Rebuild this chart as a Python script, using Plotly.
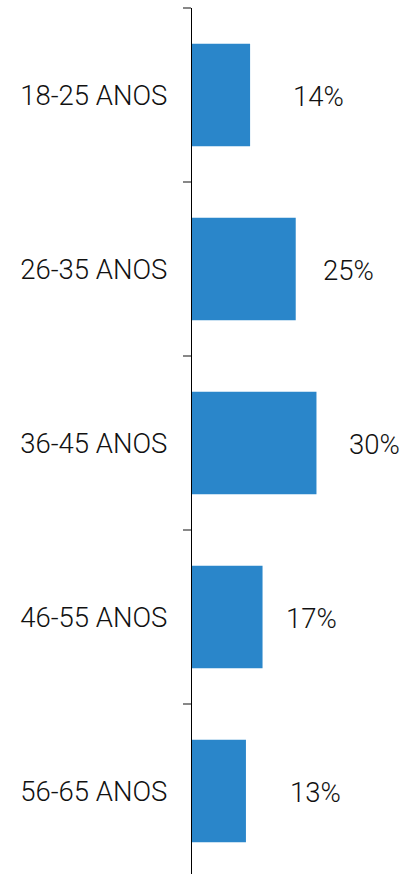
import plotly.graph_objects as go

categories = ["18-25 ANOS", "26-35 ANOS", "36-45 ANOS", "46-55 ANOS", "56-65 ANOS"]
values = [14, 25, 30, 17, 13]
value_labels = ["14%", "25%", "30%", "17%", "13%"]

# style: horizontal pixel gap between bar end and its label
label_shift = [41, 25, 31, 21, 42]

BAR_COLOR = "#2A86CA"
TEXT_COLOR = "#111111"
FONT = "Roboto, sans-serif"
FSIZE = 27.5

fig = go.Figure(go.Bar(
    x=values, y=categories, orientation="h",
    marker=dict(color=BAR_COLOR, line=dict(width=0)),
    hoverinfo="skip",
))

for c, v, t, s in zip(categories, values, value_labels, label_shift):
    fig.add_annotation(x=v, y=c, text=t, showarrow=False, xanchor="left",
                       xshift=s, yshift=-1,
                       font=dict(size=FSIZE, color=TEXT_COLOR, family=FONT, weight=300))

fig.update_layout(
    width=409, height=874,
    margin=dict(l=192, r=0, t=8, b=0),
    paper_bgcolor="white", plot_bgcolor="white",
    bargap=0.41,
    showlegend=False,
    font=dict(family=FONT, color=TEXT_COLOR),
    xaxis=dict(range=[0, 52.3], visible=False, fixedrange=True),
    yaxis=dict(
        type="category",
        categoryorder="array", categoryarray=categories,
        range=[4.477, -0.5],
        showline=True, linecolor="black", linewidth=1.2,
        ticks="outside", ticklen=8, tickcolor="#888888", tickwidth=1.5,
        tickson="boundaries",
        showgrid=False, zeroline=False,
        tickfont=dict(size=FSIZE, color=TEXT_COLOR, family=FONT, weight=300),
        ticklabelstandoff=18,
        fixedrange=True,
    ),
)

fig.write_html(
    "out.html",
    config={"displayModeBar": False},
    post_script="document.body.style.margin='0';document.body.style.overflow='hidden';",
)
